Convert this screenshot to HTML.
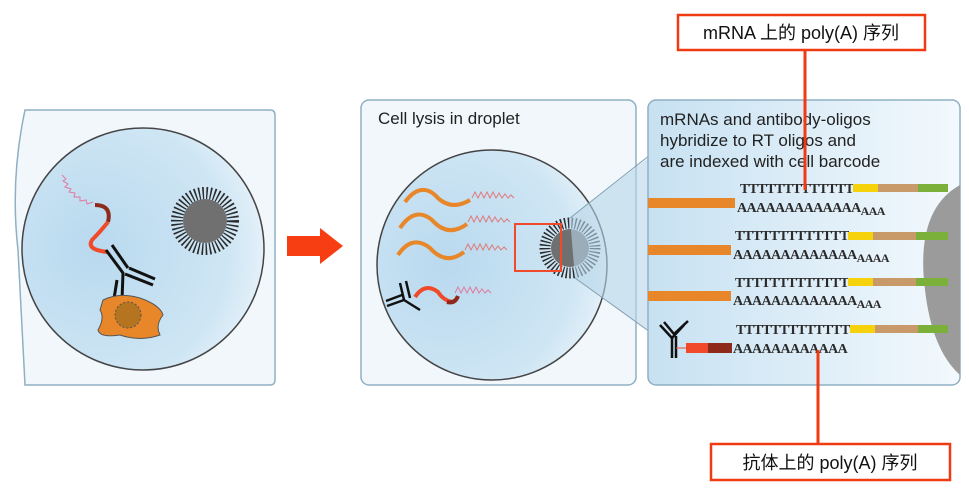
<!DOCTYPE html>
<html><head><meta charset="utf-8"><style>
body{margin:0;background:#fff;width:969px;height:494px;overflow:hidden}
svg{display:block}
text{font-family:"Liberation Sans","Noto Sans CJK SC",sans-serif}
.seq{font-family:"Liberation Serif",serif;font-size:14px;font-weight:bold;fill:#2a2a2a;letter-spacing:-0.6px}
</style></head><body>
<svg width="969" height="494" viewBox="0 0 969 494">
<defs>
<radialGradient id="drop" cx="0.3" cy="0.5" r="0.8"><stop offset="0" stop-color="#b9d9ef"/><stop offset="0.7" stop-color="#cfe6f4"/><stop offset="1" stop-color="#f2f8fc"/></radialGradient>
<linearGradient id="pan" x1="0" x2="1"><stop offset="0" stop-color="#c7e1f2"/><stop offset="1" stop-color="#f3f9fd"/></linearGradient>
</defs>
<g>
<path d="M25 110 H270 Q275 110 275 115 V380 Q275 385 270 385 H25 Q22 330 18 250 Q10 180 25 110Z" fill="#f1f7fb" stroke="#8fb0c4" stroke-width="1.5"/>
<circle cx="143" cy="249" r="121" fill="url(#drop)" stroke="#444" stroke-width="1.5"/>
<g>
<circle cx="205" cy="221" r="28" fill="none" stroke="#2a2a2a" stroke-width="12" stroke-dasharray="1.5 2.3"/>
<circle cx="205" cy="221" r="22" fill="#707070"/>
</g>
<path d="M62 175 l4 4 l-3 2 l5 3 l-3 3 l6 2 l-2 3 l6 1 l-1 4 l6 0 l0 4 l6 -1 l1 4 l6 -2" fill="none" stroke="#e07aa0" stroke-width="1"/>
<path d="M95 205 Q112 205 108 222" fill="none" stroke="#8e2a1c" stroke-width="4"/>
<path d="M108 222 Q100 232 92 240 Q86 250 108 252" fill="none" stroke="#f04a2a" stroke-width="4"/>
<g stroke="#111" stroke-width="3" fill="none">
<path d="M106 250 L123 273 L122 300"/><path d="M112 245 L128 268"/><path d="M125 274 L153 285"/><path d="M129 268 L155 279"/><path d="M117 280 L113 305"/>
</g>
<path d="M103 300 Q120 292 140 298 Q160 305 163 315 Q155 325 160 335 Q140 342 120 335 Q100 338 98 330 Q105 318 100 310Z" fill="#e8862a" stroke="#555"/>
<circle cx="128" cy="315" r="13" fill="#b5741f" stroke="#555" stroke-dasharray="2 2"/>
</g>
<path d="M287 236 H320 V228 L343 246 L320 264 V256 H287Z" fill="#f73d12"/>
<g>
<rect x="361" y="100" width="275" height="285" rx="8" fill="#f1f7fb" stroke="#8fb0c4" stroke-width="1.5"/>
<text x="378" y="124" font-size="17" fill="#222">Cell lysis in droplet</text>
<circle cx="492" cy="265" r="115" fill="url(#drop)" stroke="#444" stroke-width="1.5"/>
<g fill="none" stroke="#e8862a" stroke-width="4">
<path d="M405 202 Q420 182 435 195 Q450 212 470 200"/>
<path d="M400 228 Q415 206 432 220 Q448 238 467 224"/>
<path d="M398 255 Q412 234 430 248 Q446 266 464 252"/>
</g>
<g fill="none" stroke="#e07a7a" stroke-width="1">
<path d="M472 198 l3 -6 l3 6 l3 -6 l3 6 l3 -6 l3 6 l3 -6 l3 6 l3 -5 l3 5 l3 -4 l3 4 l3 -3 l3 3"/>
<path d="M468 222 l3 -6 l3 6 l3 -6 l3 6 l3 -6 l3 6 l3 -6 l3 6 l3 -5 l3 5 l3 -4 l3 4 l3 -3 l3 3"/>
<path d="M465 250 l3 -6 l3 6 l3 -6 l3 6 l3 -6 l3 6 l3 -6 l3 6 l3 -5 l3 5 l3 -4 l3 4 l3 -3 l3 3"/>
<path d="M455 293 l3 -6 l3 6 l3 -6 l3 6 l3 -6 l3 6 l3 -6 l3 6 l3 -4 l3 4 l3 -3 l3 3" stroke="#e07aa0"/>
</g>
<path d="M415 297 Q425 282 438 292 Q443 300 452 302" fill="none" stroke="#f04a2a" stroke-width="4"/>
<path d="M447 302 Q455 304 458 296" fill="none" stroke="#8e2a1c" stroke-width="4"/>
<g stroke="#111" stroke-width="2.5" fill="none"><path d="M400 283 L404 300 L387 306"/><path d="M406 281 L410 298"/><path d="M386 301 L402 295"/><path d="M404 300 L420 310"/></g>
<g>
<circle cx="570" cy="248" r="25" fill="none" stroke="#2a2a2a" stroke-width="11" stroke-dasharray="1.4 2.1"/>
<circle cx="570" cy="248" r="19" fill="#707070"/>
</g>
<rect x="515" y="224" width="46" height="47" fill="none" stroke="#f04a2a" stroke-width="2"/>
</g>
<path d="M570 218 L648 158 V330 L575 278Z" fill="#b8d6ea" opacity="0.6"/>
<line x1="570" y1="218" x2="650" y2="155" stroke="#7fa0b4"/><line x1="575" y1="278" x2="650" y2="332" stroke="#7fa0b4"/>
<g>
<rect x="648" y="100" width="312" height="285" rx="8" fill="url(#pan)" stroke="#8fb0c4" stroke-width="1.5"/>
<path d="M960 185 Q915 210 925 290 Q932 350 960 375Z" fill="#9b9b9b"/>
<text font-size="17" fill="#222"><tspan x="660" y="125">mRNAs and antibody-oligos</tspan><tspan x="660" y="146">hybridize to RT oligos and</tspan><tspan x="660" y="167">are indexed with cell barcode</tspan></text>
<g>
<rect x="648" y="198" width="87" height="10" fill="#e8862a"/>
<text x="740" y="193" class="seq">TTTTTTTTTTTTT</text><text x="737" y="212" class="seq">AAAAAAAAAAAAA<tspan dy="3" font-size="12">AAA</tspan></text>
<rect x="853" y="184" width="25" height="8" fill="#f5d20c"/><rect x="878" y="184" width="40" height="8" fill="#c89a6a"/><rect x="918" y="184" width="30" height="8" fill="#7bb13a"/>
</g>
<g>
<rect x="648" y="245" width="83" height="10" fill="#e8862a"/>
<text x="735" y="240" class="seq">TTTTTTTTTTTTT</text><text x="733" y="259" class="seq">AAAAAAAAAAAAA<tspan dy="3" font-size="12">AAAA</tspan></text>
<rect x="848" y="232" width="25" height="8" fill="#f5d20c"/><rect x="873" y="232" width="43" height="8" fill="#c89a6a"/><rect x="916" y="232" width="32" height="8" fill="#7bb13a"/>
</g>
<g>
<rect x="648" y="291" width="83" height="10" fill="#e8862a"/>
<text x="735" y="287" class="seq">TTTTTTTTTTTTT</text><text x="733" y="305" class="seq">AAAAAAAAAAAAA<tspan dy="3" font-size="12">AAA</tspan></text>
<rect x="848" y="278" width="25" height="8" fill="#f5d20c"/><rect x="873" y="278" width="43" height="8" fill="#c89a6a"/><rect x="916" y="278" width="32" height="8" fill="#7bb13a"/>
</g>
<g>
<g stroke="#111" stroke-width="2.5" fill="none"><path d="M660 325 L672 338 L684 325"/><path d="M664 322 L674 334 L688 321"/><path d="M672 338 V358"/><path d="M676 336 V358"/></g>
<line x1="676" y1="348" x2="686" y2="348" stroke="#f04a2a"/>
<rect x="686" y="343" width="22" height="10" fill="#f04a2a"/><rect x="708" y="343" width="24" height="10" fill="#8e2a1c"/>
<text x="736" y="334" class="seq">TTTTTTTTTTTTT</text><text x="733" y="353" class="seq">AAAAAAAAAAAA</text>
<rect x="850" y="325" width="25" height="8" fill="#f5d20c"/><rect x="875" y="325" width="43" height="8" fill="#c89a6a"/><rect x="918" y="325" width="30" height="8" fill="#7bb13a"/>
</g>
</g>
<line x1="805" y1="50" x2="805" y2="190" stroke="#f03a12" stroke-width="3"/>
<rect x="678" y="15" width="247" height="35" fill="#fff" stroke="#f03a12" stroke-width="2.5"/>
<text x="801" y="39" font-size="18" text-anchor="middle" fill="#111">mRNA 上的 poly(A) 序列</text>
<line x1="818" y1="350" x2="818" y2="444" stroke="#f03a12" stroke-width="3"/>
<rect x="711" y="444" width="239" height="36" fill="#fff" stroke="#f03a12" stroke-width="2.5"/>
<text x="830" y="469" font-size="18" text-anchor="middle" fill="#111">抗体上的 poly(A) 序列</text>
</svg>
</body></html>
